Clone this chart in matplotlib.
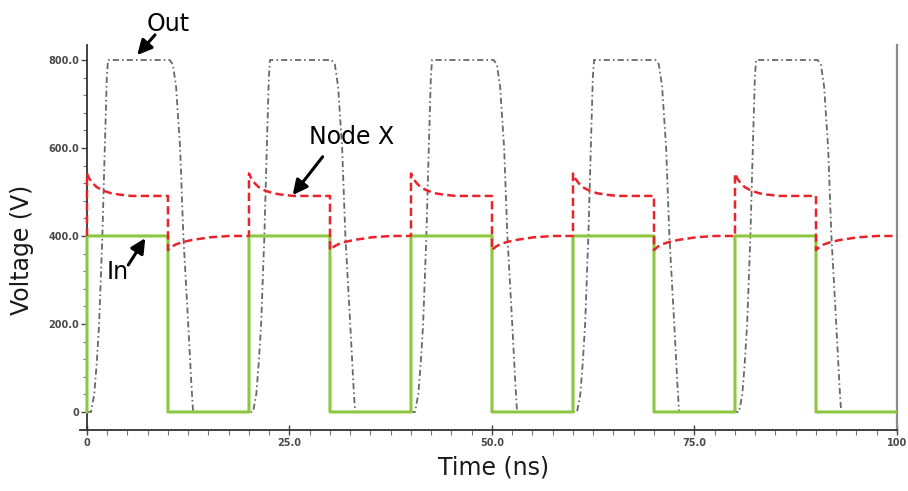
import numpy as np
import matplotlib
matplotlib.use("Agg")
import matplotlib.pyplot as plt
from matplotlib.ticker import FixedLocator

# input: square wave edges (ns) and levels (V)
in_edges = [0, 10, 20, 30, 40, 50, 60, 70, 80, 90, 100]
in_levels = [400, 0, 400, 0, 400, 0, 400, 0, 400, 0]

# one 20 ns period of node X and the output
period = 20.0
n_cycles = 5
nodex_cycle_t = [0, 0, 0.3, 0.7, 1.2, 2.0, 3.0, 4.0, 5.5, 10.0, 10.0, 10.5, 11.0, 11.8, 13.0, 15.2, 17.6, 20.0]
nodex_cycle_v = [400, 542, 530, 520, 511, 503, 497, 494, 491, 491, 368, 376, 381, 386, 391, 397, 400, 400]
out_cycle_t = [0, 0.5, 0.9, 1.2, 1.5, 1.9, 2.2, 2.45, 2.6, 10.2, 10.6, 11.0, 11.5, 11.9, 12.5, 12.9, 13.1, 20.0]
out_cycle_v = [0, 0, 40, 110, 200, 400, 600, 760, 800, 800, 790, 740, 600, 400, 200, 60, 0, 0]

x_ticks = [0, 25, 50, 75, 100]
x_labels = ['0', '25.0', '50.0', '75.0', '100']
y_ticks = [0, 200, 400, 600, 800]
y_labels = ['0', '200.0', '400.0', '600.0', '800.0']

# repeat the single period over the whole trace
nodex_t = np.concatenate([np.array(nodex_cycle_t) + k * period for k in range(n_cycles)])
nodex_v = np.tile(nodex_cycle_v, n_cycles)
out_t = np.concatenate([np.array(out_cycle_t) + k * period for k in range(n_cycles)])
out_v = np.tile(out_cycle_v, n_cycles)
# input starts from 0 V, then steps through the levels
in_t = [0] + in_edges
in_v = [0] + in_levels + [in_levels[-1]]

fig = plt.figure(figsize=(9.08, 4.91), dpi=100)
ax = fig.add_axes([80 / 908, 1 - 430 / 491, 817 / 908, 385 / 491])

ax.plot(out_t, out_v, color='#686868', lw=1.3, dashes=(3.4, 1.7, 0.9, 1.7), zorder=2)
ax.plot(in_t, in_v, drawstyle='steps-post', color='#8dc63f', lw=2.2, zorder=3, snap=False)
ax.plot(nodex_t, nodex_v, color='#e8232b', lw=1.8, dashes=(3.3, 1.7), zorder=4)

ax.set_xlim(-0.86, 100)
ax.set_ylim(-41, 834)

ax.spines['top'].set_visible(False)
ax.spines['left'].set_position(('data', 0))
ax.spines['left'].set_color('#333333')
ax.spines['bottom'].set_color('#333333')
ax.spines['left'].set_linewidth(1.3)
ax.spines['bottom'].set_linewidth(1.3)
ax.spines['right'].set_color('#8a8a8a')
ax.spines['right'].set_linewidth(1.6)

ax.xaxis.set_major_locator(FixedLocator(x_ticks))
ax.set_xticklabels(x_labels)
ax.xaxis.set_minor_locator(FixedLocator(np.arange(0, 100.1, 2.5)))
ax.yaxis.set_major_locator(FixedLocator(y_ticks))
ax.set_yticklabels(y_labels)
ax.yaxis.set_minor_locator(FixedLocator(np.arange(0, 801, 40)))

ax.tick_params(axis='x', which='major', direction='inout', length=7, width=1, color='#444444', pad=2)
ax.tick_params(axis='x', which='minor', direction='out', length=3.5, width=0.8, color='#777777')
ax.tick_params(axis='y', which='major', direction='out', length=4.5, width=1, color='#444444', pad=1)
ax.tick_params(axis='y', which='minor', direction='out', length=3, width=0.8, color='#777777')
for lab in ax.get_xticklabels() + ax.get_yticklabels():
    lab.set_fontsize(7)
    lab.set_fontweight('bold')
    lab.set_color('#4a4a4a')

fig.text(22 / 908, 1 - 250 / 491, 'Voltage (V)', rotation=90, fontsize=17, color='#1a1a1a',
         ha='center', va='center')
fig.text(494 / 908, 1 - 467 / 491, 'Time (ns)', fontsize=17, color='#1a1a1a', ha='center', va='center')

arrow = dict(arrowstyle='-|>', color='black', lw=2.2, mutation_scale=22, shrinkA=0, shrinkB=0)
ax.text(10.0, 882, 'Out', fontsize=17, ha='center', va='center', clip_on=False)
ax.annotate('', xy=(6.2, 811), xytext=(8.4, 857), arrowprops=arrow, annotation_clip=False)
ax.text(32.7, 625, 'Node X', fontsize=17, ha='center', va='center')
ax.annotate('', xy=(25.4, 493), xytext=(29.1, 580), arrowprops=arrow)
ax.text(3.8, 318, 'In', fontsize=17, ha='center', va='center')
ax.annotate('', xy=(7.2, 395), xytext=(5.1, 334), arrowprops=arrow)

fig.savefig('out.png', dpi=100)
